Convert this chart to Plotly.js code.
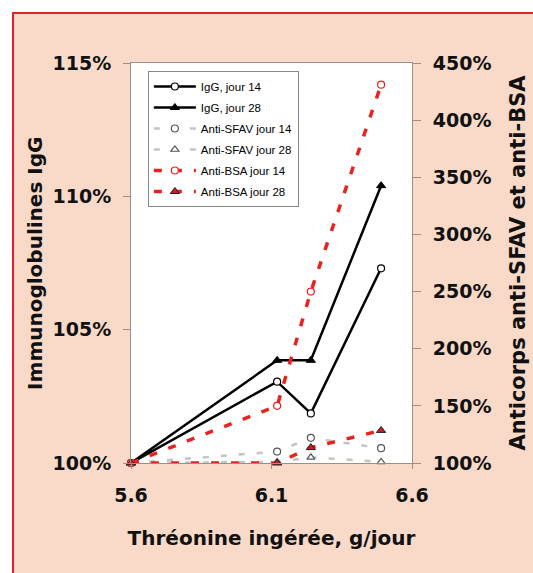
<!DOCTYPE html>
<html>
<head>
<meta charset="utf-8">
<script src="https://cdn.plot.ly/plotly-3.0.1.min.js"></script>
<style>
html,body{margin:0;padding:0;background:#ffffff;width:533px;height:573px;overflow:hidden;}
#frame{position:absolute;left:12px;top:12px;width:521px;height:561px;border-left:2px solid #e8202a;border-top:2px solid #e8202a;box-sizing:border-box;background:#f9dac8;}
#chart{position:absolute;left:14px;top:14px;width:519px;height:559px;}
</style>
</head>
<body>
<div id="frame"></div>
<div id="chart"></div>
<script>
// Threonine intake, g/jour
const threonine = [5.6, 6.12, 6.24, 6.49];
// IgG (left axis, %)
const iggJour14 = [100, 103.05, 101.86, 107.3];
const iggJour28 = [100, 103.85, 103.85, 110.4];
// Antibodies (right axis, %)
const antiSfavJour14 = [100, 110, 122, 113];
const antiSfavJour28 = [100, 101, 105, 101];
const antiBsaJour14 = [100, 150, 250, 431];
const antiBsaJour28 = [100, 100, 113.5, 128.5];
// Ticks
const xTicks = [5.6, 6.1, 6.6];
const xTickLabels = ['5.6', '6.1', '6.6'];
const names = ['IgG, jour 14', 'IgG, jour 28', 'Anti-SFAV jour 14', 'Anti-SFAV jour 28', 'Anti-BSA jour 14', 'Anti-BSA jour 28'];
const leftTitle = 'Immunoglobulines IgG';

const red = '#e8231f';
const gray = '#c4c4c4';

const traces = [
  {x: threonine, y: iggJour14, name: names[0], legendgroup: 'g1', yaxis: 'y', mode: 'lines+markers', cliponaxis: false,
   line: {color: '#000', width: 2.5}, marker: {symbol: 'circle', size: 7, color: '#fff', line: {color: '#000', width: 1.2}}},
  {x: threonine, y: iggJour28, name: names[1], legendgroup: 'g2', yaxis: 'y', mode: 'lines+markers', cliponaxis: false,
   line: {color: '#000', width: 2.5}, marker: {symbol: 'triangle-up', size: 8, color: '#000', line: {color: '#000', width: 1}}},
  {x: threonine, y: antiSfavJour14, name: names[2], legendgroup: 'g3', yaxis: 'y2', mode: 'lines+markers', cliponaxis: false,
   line: {color: gray, width: 2.5, dash: '6px,12px'}, marker: {symbol: 'circle', size: 7, color: '#fff', line: {color: '#555', width: 1.2}}},
  {x: threonine, y: antiSfavJour28, name: names[3], legendgroup: 'g4', yaxis: 'y2', mode: 'lines+markers', cliponaxis: false,
   line: {color: gray, width: 2.5, dash: '6px,12px'}, marker: {symbol: 'triangle-up', size: 7, color: '#fff', line: {color: '#555', width: 1.2}}},
  {x: threonine, y: antiBsaJour14, name: names[4], legendgroup: 'g5', yaxis: 'y2', mode: 'lines+markers', cliponaxis: false,
   line: {color: red, width: 3.5, dash: '8px,12px'}, marker: {symbol: 'circle', size: 7, color: '#fff', line: {color: red, width: 1.2}}},
  {x: threonine, y: antiBsaJour28, name: names[5], legendgroup: 'g6', yaxis: 'y2', mode: 'lines+markers', cliponaxis: false,
   line: {color: red, width: 3.5, dash: '8px,12px'}, marker: {symbol: 'triangle-up', size: 8, color: '#c81e1e', line: {color: '#222', width: 1}}}
];

const tickFont = {family: 'DejaVu Sans', size: 19, weight: 'bold', color: '#111'};
const titleFont = {family: 'DejaVu Sans', size: 20, weight: 'bold', color: '#111'};
const axLine = '#9a9088';

const layout = {
  width: 519, height: 559,
  margin: {l: 117, r: 121, t: 49, b: 110, pad: 0},
  paper_bgcolor: '#f9dac8',
  plot_bgcolor: '#ffffff',
  showlegend: true,
  legend: {x: 0.06, y: 0.98, xanchor: 'left', yanchor: 'top', bgcolor: '#fff', bordercolor: '#888', borderwidth: 1,
           font: {family: 'Liberation Sans', size: 11.5, color: '#000'}, tracegroupgap: 2, traceorder: 'grouped', itemwidth: 42,
           entrywidth: 150},
  xaxis: {range: [5.6, 6.6], tickvals: xTicks, ticktext: xTickLabels, ticks: 'outside', ticklen: 5, tickcolor: axLine,
          showline: true, linecolor: axLine, linewidth: 1, mirror: true, showgrid: false, zeroline: false, ticklabelstandoff: 10,
          tickfont: tickFont, title: {text: 'Thréonine ingérée, g/jour', font: titleFont, standoff: 26}},
  yaxis: {range: [100, 115], dtick: 5, tick0: 100, ticksuffix: '%', ticks: 'outside', ticklen: 7, tickcolor: axLine,
          showline: true, linecolor: axLine, linewidth: 1, mirror: true, showgrid: false, zeroline: false, ticklabelstandoff: 8,
          tickfont: tickFont},
  yaxis2: {range: [100, 450], dtick: 50, tick0: 100, ticksuffix: '%', overlaying: 'y', side: 'right', ticks: 'outside', ticklen: 8, tickcolor: axLine,
           showline: true, linecolor: axLine, linewidth: 1, showgrid: false, zeroline: false, ticklabelstandoff: 8,
           tickfont: tickFont, title: {text: 'Anticorps anti-SFAV et anti-BSA', font: {family: 'DejaVu Sans', size: 21, weight: 'bold', color: '#111'}, standoff: 19}},
  yaxis3: {range: [100, 450], dtick: 50, tick0: 100, overlaying: 'y', side: 'right', ticks: 'inside', ticklen: 8, tickcolor: axLine,
           showticklabels: false, showline: false, showgrid: false, zeroline: false},
  annotations: [
    {text: leftTitle, xref: 'paper', yref: 'paper', x: -0.342, y: 0.5, xanchor: 'center', yanchor: 'middle',
     textangle: -90, showarrow: false, font: titleFont}
  ]
};

Plotly.newPlot('chart', traces, layout, {displayModeBar: false, staticPlot: true});
</script>
</body>
</html>
